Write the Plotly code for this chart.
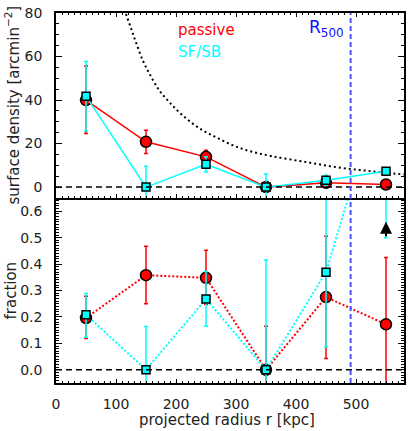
import plotly.graph_objects as go

# ---------------- data ----------------
r_bins = [50, 150, 250, 350, 450, 550]

sd_passive = [40.0, 20.8, 13.9, 0.0, 2.0, 1.2]
sd_passive_hi = [15.6, 5.3, 3.0, 0.0, 0.0, 0.0]
sd_passive_lo = [15.4, 5.4, 2.6, 0.0, 0.0, 0.0]

sd_sfsb = [41.8, 0.0, 10.5, 0.0, 3.2, 7.3]
sd_sfsb_hi = [15.9, 9.6, 3.5, 6.0, 2.3, 0.0]
sd_sfsb_lo = [16.0, 9.6, 3.5, 6.0, 2.3, 0.0]

frac_passive = [0.196, 0.358, 0.348, 0.0, 0.275, 0.172]
frac_passive_hi = [0.082, 0.109, 0.104, 0.165, 0.230, 0.253]
frac_passive_lo = [0.078, 0.108, 0.101, 0.165, 0.232, 0.253]

frac_sfsb = [0.208, 0.0, 0.268, 0.0, 0.369, 1.13]
frac_sfsb_hi = [0.081, 0.164, 0.104, 0.415, 0.283, 0.30]
frac_sfsb_lo = [0.085, 0.164, 0.103, 0.415, 0.283, 0.63]

model_r = [108, 116, 125, 134, 145, 156, 172, 189, 211, 239, 266, 294, 322, 360, 415, 471, 526, 580]
model_sd = [86, 80, 73, 66, 58, 52, 44.5, 39, 33, 27, 23, 19.3, 16.6, 14.2, 11.6, 9.0, 7.3, 5.8]

r500 = 491
limit_arrow = [0.50, 0.56]  # lower-limit arrow for SF/SB fraction at last bin

x_ticks = [0, 100, 200, 300, 400, 500]
sd_ticks = [0, 20, 40, 60, 80]
frac_ticks = [0.0, 0.1, 0.2, 0.3, 0.4, 0.5, 0.6]

# ---------------- styling ----------------
FONT = "DejaVu Sans"
TXT = "#222"
RED = "#ff0000"
CYAN = "#00ffff"
BLUE = "#5050ff"

fig = go.Figure()

# top panel (x2, y2)
fig.add_trace(go.Scatter(x=model_r, y=model_sd, xaxis="x2", yaxis="y2", mode="lines",
                         line=dict(color="black", width=2, dash="2px,3px", shape="spline"),
                         showlegend=False))
fig.add_trace(go.Scatter(x=r_bins, y=sd_passive, xaxis="x2", yaxis="y2", mode="lines+markers",
                         line=dict(color=RED, width=1.5),
                         marker=dict(symbol="circle", size=11, color=RED, line=dict(color="black", width=1.5)),
                         error_y=dict(type="data", array=sd_passive_hi, arrayminus=sd_passive_lo,
                                      color=RED, thickness=1.5, width=2),
                         showlegend=False))
fig.add_trace(go.Scatter(x=r_bins, y=sd_sfsb, xaxis="x2", yaxis="y2", mode="lines+markers",
                         line=dict(color=CYAN, width=1.5),
                         marker=dict(symbol="square", size=8, color=CYAN, line=dict(color="black", width=1.5)),
                         error_y=dict(type="data", array=sd_sfsb_hi, arrayminus=sd_sfsb_lo,
                                      color=CYAN, thickness=1.5, width=2),
                         showlegend=False))

# bottom panel (x, y)
fig.add_trace(go.Scatter(x=r_bins, y=frac_passive, xaxis="x", yaxis="y", mode="lines+markers",
                         line=dict(color=RED, width=2, dash="2px,2px"),
                         marker=dict(symbol="circle", size=11, color=RED, line=dict(color="black", width=1.5)),
                         error_y=dict(type="data", array=frac_passive_hi, arrayminus=frac_passive_lo,
                                      color=RED, thickness=1.5, width=2),
                         showlegend=False))
fig.add_trace(go.Scatter(x=r_bins, y=frac_sfsb, xaxis="x", yaxis="y", mode="lines+markers",
                         line=dict(color=CYAN, width=2, dash="2px,2px"),
                         marker=dict(symbol="square", size=8, color=CYAN, line=dict(color="black", width=1.5)),
                         error_y=dict(type="data", array=frac_sfsb_hi, arrayminus=frac_sfsb_lo,
                                      color=CYAN, thickness=1.5, width=2),
                         showlegend=False))

# zero lines and R500
shapes = [
    dict(type="line", xref="x2 domain", yref="y2", x0=0, x1=1, y0=0, y1=0,
         line=dict(color="black", width=1.5, dash="6px,4px")),
    dict(type="line", xref="x domain", yref="y", x0=0, x1=1, y0=0, y1=0,
         line=dict(color="black", width=1.5, dash="6px,4px")),
    dict(type="line", xref="x", yref="paper", x0=r500, x1=r500, y0=0, y1=1,
         line=dict(color=BLUE, width=2, dash="5px,3px")),
]

common_axis = dict(showline=True, linecolor="black", linewidth=1.5,
                   ticks="inside", tickcolor="black", tickwidth=1, showgrid=False, zeroline=False,
                   tickfont=dict(family=FONT, size=14, color=TXT))
xminor = dict(dtick=10, ticklen=2, tickwidth=1, ticks="inside", tickcolor="black", showgrid=False)

fig.update_layout(
    width=411, height=431,
    margin=dict(l=56, r=5, t=13, b=48),
    paper_bgcolor="white", plot_bgcolor="white",
    font=dict(family=FONT, size=14, color=TXT),
    shapes=shapes,
    xaxis=dict(domain=[0, 1], anchor="y", range=[0, 580], tickvals=x_ticks, ticklen=4,
               ticklabelstandoff=7, mirror=False, minor=xminor, **common_axis),
    xaxis3=dict(domain=[0, 1], anchor="y", overlaying="x", side="top", range=[0, 580],
                tickvals=x_ticks, ticklen=4, showticklabels=False, mirror=False, minor=xminor,
                **common_axis),
    yaxis=dict(domain=[0, 0.5], anchor="x", range=[-0.05, 0.65], tickvals=frac_ticks, tickformat=".1f",
               ticklen=6, ticklabelstandoff=9, mirror="allticks",
               minor=dict(dtick=0.01, ticklen=3, tickwidth=1, ticks="inside", tickcolor="black", showgrid=False),
               **common_axis),
    xaxis2=dict(domain=[0, 1], anchor="y2", range=[0, 580], tickvals=x_ticks, ticklen=4,
                showticklabels=False, mirror="allticks", minor=xminor, **common_axis),
    yaxis2=dict(domain=[0.5, 1], anchor="x2", range=[-5, 80], tickvals=sd_ticks,
                ticklen=6, ticklabelstandoff=9, mirror="allticks",
                minor=dict(dtick=5, ticklen=3, tickwidth=1, ticks="inside", tickcolor="black", showgrid=False),
                **common_axis),
)

annotations = [
    dict(text="passive", xref="x2", yref="y2", x=200, y=72, xanchor="left", yanchor="middle",
         showarrow=False, font=dict(family=FONT, size=15, color=RED)),
    dict(text="SF/SB", xref="x2", yref="y2", x=200, y=62, xanchor="left", yanchor="middle",
         showarrow=False, font=dict(family=FONT, size=15, color=CYAN)),
    dict(text="R<sub>500</sub>", xref="x2", yref="y2", x=483, y=73, xanchor="right", yanchor="middle",
         showarrow=False, font=dict(family=FONT, size=17, color="#1010ff")),
    dict(text="surface density [arcmin<sup>\u22122</sup>]", xref="paper", yref="paper", x=0, y=0.75,
         xshift=-44, textangle=-90, xanchor="center", yanchor="middle", showarrow=False,
         font=dict(family=FONT, size=15, color=TXT)),
    dict(text="fraction", xref="paper", yref="paper", x=0, y=0.25,
         xshift=-46, textangle=-90, xanchor="center", yanchor="middle", showarrow=False,
         font=dict(family=FONT, size=15, color=TXT)),
    dict(text="projected radius r [kpc]", xref="paper", yref="paper", x=0.49, y=0,
         yshift=-37, xanchor="center", yanchor="middle", showarrow=False,
         font=dict(family=FONT, size=15, color=TXT)),
    dict(text="", xref="x", yref="y", x=r_bins[-1], y=limit_arrow[1],
         axref="x", ayref="y", ax=r_bins[-1], ay=limit_arrow[0],
         showarrow=True, arrowhead=2, arrowsize=1.2, arrowwidth=2, arrowcolor="black"),
]
fig.update_layout(annotations=annotations)

fig.write_html("out.html", config={"displayModeBar": False},
               post_script="document.body.style.margin='0px';document.body.style.overflow='hidden';")
